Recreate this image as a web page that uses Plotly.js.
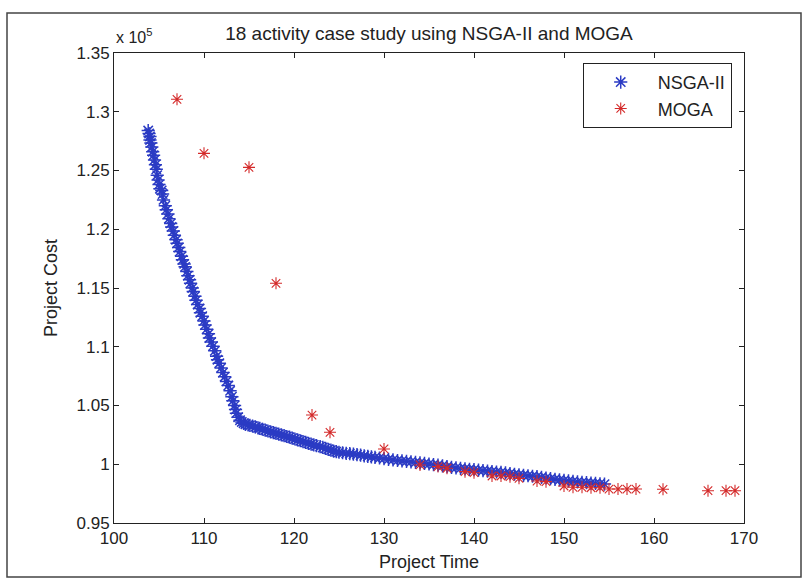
<!DOCTYPE html>
<html>
<head>
<meta charset="utf-8">
<script src="https://cdn.plot.ly/plotly-3.0.1.min.js"></script>
<style>
  html, body { margin: 0; padding: 0; background: #ffffff; }
  #chart { width: 809px; height: 583px; }
</style>
</head>
<body>
<div id="chart"></div>
<script>
// ---------------- DATA ----------------
const nsgaTime = [
  103.8, 103.9, 104.0, 104.0, 104.1, 104.2, 104.3, 104.4, 104.5, 104.6,
  104.7, 104.8, 104.9, 105.0, 105.1, 105.3, 105.4, 105.5, 105.7, 105.8,
  106.0, 106.1, 106.3, 106.4, 106.6, 106.7, 106.9, 107.0, 107.2, 107.3,
  107.5, 107.6, 107.8, 107.9, 108.1, 108.2, 108.4, 108.5, 108.7, 108.8,
  109.0, 109.1, 109.3, 109.5, 109.6, 109.8, 110.0, 110.1, 110.3, 110.5,
  110.6, 110.8, 111.0, 111.2, 111.4, 111.5, 111.7, 111.9, 112.1, 112.3,
  112.5, 112.7, 112.9, 113.1, 113.2, 113.4, 113.5, 113.6, 113.8, 114.0,
  114.2, 114.4, 114.6, 114.9, 115.1, 115.4, 115.7, 116.0, 116.2, 116.5,
  116.8, 117.1, 117.4, 117.7, 118.0, 118.3, 118.6, 118.9, 119.2, 119.5,
  119.8, 120.1, 120.4, 120.7, 121.0, 121.3, 121.6, 121.9, 122.2, 122.5,
  122.9, 123.2, 123.5, 123.8, 124.1, 124.4, 124.7, 125.0, 125.4, 125.8,
  126.2, 126.6, 127.0, 127.4, 127.8, 128.2, 128.6, 129.0, 129.5, 130.0,
  130.5, 131.0, 131.5, 132.0, 132.5, 133.0, 133.5, 134.0, 134.5, 135.0,
  135.5, 136.0, 136.5, 137.0, 137.5, 138.0, 138.5, 139.0, 139.5, 140.0,
  140.5, 141.0, 141.5, 142.0, 142.5, 143.0, 143.5, 144.0, 144.5, 145.0,
  145.5, 146.0, 146.5, 147.0, 147.5, 148.0, 148.5, 149.0, 149.5, 150.0,
  150.5, 151.0, 151.5, 152.0, 152.5, 153.0, 153.5, 154.0, 154.5
];
const nsgaCost = [
  128400, 128150, 127900, 127600, 127350, 127000, 126600, 126300, 125900, 125500,
  125100, 124600, 124200, 123800, 123450, 123300, 123000, 122500, 122000, 121650,
  121300, 120900, 120500, 120200, 119850, 119500, 119100, 118800, 118450, 118100,
  117700, 117400, 117050, 116800, 116400, 116050, 115700, 115400, 115000, 114700,
  114300, 113950, 113600, 113250, 112900, 112600, 112200, 111850, 111500, 111100,
  110750, 110400, 110050, 109650, 109200, 108900, 108600, 108200, 107800, 107450,
  107050, 106700, 106250, 105750, 105400, 105000, 104650, 104350, 104000, 103750,
  103600, 103480, 103400, 103350, 103300, 103250, 103180, 103100, 103050, 102980,
  102900, 102830, 102760, 102700, 102630, 102560, 102500, 102430, 102360, 102300,
  102220, 102150, 102080, 102000, 101930, 101860, 101780, 101710, 101650, 101580,
  101500, 101430, 101350, 101270, 101200, 101120, 101070, 101020, 100980, 100930,
  100900, 100870, 100820, 100770, 100720, 100670, 100620, 100580, 100530, 100480,
  100420, 100370, 100320, 100280, 100250, 100200, 100160, 100120, 100070, 100020,
  99970, 99930, 99870, 99800, 99740, 99690, 99650, 99610, 99570, 99540,
  99500, 99460, 99420, 99380, 99340, 99300, 99260, 99210, 99150, 99100,
  99060, 99020, 98980, 98940, 98890, 98830, 98770, 98720, 98670, 98620,
  98580, 98540, 98500, 98460, 98430, 98400, 98370, 98340, 98310
];

const mogaTime = [
  107, 110, 115, 118, 122, 124, 130, 134, 136, 137,
  139, 140, 142, 143, 144, 145, 147, 148, 150, 151,
  152, 153, 154, 155, 156, 157, 158, 161, 166, 168, 169
];
const mogaCost = [
  131060, 126460, 125270, 115400, 104190, 102720, 101300, 99940, 99800, 99660,
  99370, 99280, 99000, 99000, 98940, 98800, 98570, 98520, 98150, 98040,
  98040, 98000, 98000, 97890, 97890, 97890, 97890, 97870, 97750, 97750, 97750
];

const seriesNames = ['NSGA-II', 'MOGA'];
const xTickVals = [100, 110, 120, 130, 140, 150, 160, 170];
const yTickVals = [95000, 100000, 105000, 110000, 115000, 120000, 125000, 130000, 135000];
const yTickText = ['0.95', '1', '1.05', '1.1', '1.15', '1.2', '1.25', '1.3', '1.35'];

// ---------------- CHART ----------------
const FONT = 'Liberation Sans, Arial, sans-serif';
const INK = '#222222';

const traces = [
  {
    x: nsgaTime, y: nsgaCost, name: seriesNames[0],
    type: 'scatter', mode: 'markers',
    marker: { symbol: 'asterisk-open', size: 11, color: '#2b3bc4',
              line: { width: 1.5, color: '#2b3bc4' } }
  },
  {
    x: mogaTime, y: mogaCost, name: seriesNames[1],
    type: 'scatter', mode: 'markers',
    marker: { symbol: 'asterisk-open', size: 10, color: '#d42a2a',
              line: { width: 1.1, color: '#d42a2a' } }
  }
];

const layout = {
  width: 809, height: 583,
  margin: { l: 114, r: 65, t: 53, b: 60 },
  paper_bgcolor: '#ffffff',
  plot_bgcolor: '#ffffff',
  font: { family: FONT, size: 17, color: INK },
  showlegend: true,
  title: {
    text: '18 activity case study using NSGA-II and MOGA',
    font: { family: FONT, size: 19, color: INK },
    xref: 'paper', x: 0.5, xanchor: 'center',
    yref: 'container', y: 1 - 33 / 583, yanchor: 'middle'
  },
  xaxis: {
    range: [100, 170],
    tickvals: xTickVals,
    ticks: 'inside', ticklen: 5, tickcolor: INK, tickwidth: 1,
    showline: true, linecolor: INK, linewidth: 1, mirror: 'ticks',
    showgrid: false, zeroline: false,
    tickfont: { family: FONT, size: 17, color: INK },
    title: { text: 'Project Time', font: { family: FONT, size: 18, color: INK }, standoff: 7 }
  },
  yaxis: {
    range: [95000, 135000],
    tickvals: yTickVals, ticktext: yTickText,
    ticks: 'inside', ticklen: 5, tickcolor: INK, tickwidth: 1,
    showline: true, linecolor: INK, linewidth: 1, mirror: 'ticks',
    showgrid: false, zeroline: false,
    tickfont: { family: FONT, size: 17, color: INK },
    title: { text: 'Project Cost', font: { family: FONT, size: 18, color: INK }, standoff: 14 }
  },
  legend: {
    x: 0.744, y: 0.979, xanchor: 'left', yanchor: 'top',
    bgcolor: '#ffffff', bordercolor: INK, borderwidth: 1,
    font: { family: FONT, size: 18, color: INK },
    itemwidth: 64, tracegroupgap: 0
  },
  annotations: [
    {
      text: 'x 10<sup>5</sup>', xref: 'paper', yref: 'paper',
      x: 0, y: 1, xanchor: 'left', yanchor: 'bottom', yshift: 5,
      showarrow: false, font: { family: FONT, size: 16, color: INK }
    }
  ],
  shapes: [
    {
      type: 'rect', xref: 'paper', yref: 'paper',
      x0: (7 - 114) / 630, x1: (801 - 114) / 630,
      y0: (523 - 577) / 470, y1: (523 - 13) / 470,
      line: { color: '#444444', width: 1.5 }, fillcolor: 'rgba(0,0,0,0)', layer: 'below'
    }
  ]
};

Plotly.newPlot('chart', traces, layout, { staticPlot: true, displayModeBar: false });
</script>
</body>
</html>
